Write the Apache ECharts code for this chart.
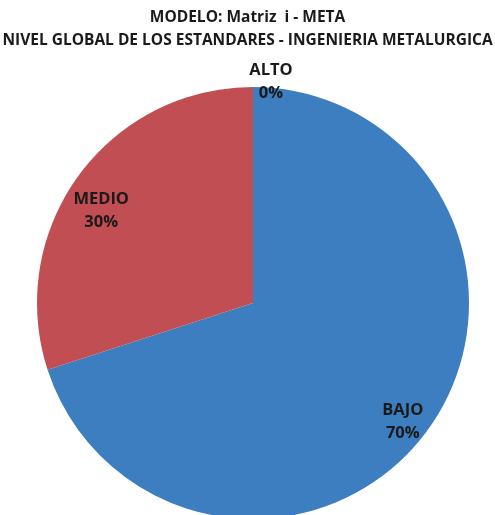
<!DOCTYPE html>
<html>
<head>
<meta charset="utf-8">
<script src="https://cdn.jsdelivr.net/npm/echarts@6/dist/echarts.min.js"></script>
<style>html,body{margin:0;padding:0;background:#fff}#c{width:495px;height:515px}</style>
</head>
<body>
<div id="c"></div>
<script>
const titleLines = ['MODELO: Matriz  i - META', 'NIVEL GLOBAL DE LOS ESTANDARES - INGENIERIA METALURGICA'];
const categories = ['BAJO', 'MEDIO', 'ALTO'];
const values = [70, 30, 0];
const colors = ['#3C7EBF', '#C14E53', '#9BBB59'];
const labelShift = [[60, 54], [-62, -27], [18, -110]];

const chart = echarts.init(document.getElementById('c'), null, {renderer: 'canvas'});
chart.setOption({
  animation: false,
  title: {
    text: titleLines.join('\n'),
    left: 'center',
    top: 1,
    textStyle: {fontFamily: 'Open Sans', fontWeight: 'bold', fontSize: 15.5, color: '#1a1a1a', lineHeight: 23}
  },
  series: [{
    type: 'pie',
    center: [253, 303],
    radius: 216,
    startAngle: 90,
    clockwise: true,
    avoidLabelOverlap: false,
    minShowLabelAngle: 0,
    itemStyle: {borderWidth: 0},
    label: {
      show: true,
      position: 'inside',
      formatter: '{b}\n{c}%',
      fontFamily: 'Open Sans',
      fontWeight: 'bold',
      fontSize: 16.5,
      lineHeight: 23,
      color: '#1a1a1a'
    },
    labelLine: {show: false},
    labelLayout: function (p) {
      const s = labelShift[p.dataIndex];
      return {dx: s[0], dy: s[1]};
    },
    data: categories.map((c, i) => ({name: c, value: values[i], itemStyle: {color: colors[i]}}))
  }]
});
</script>
</body>
</html>
